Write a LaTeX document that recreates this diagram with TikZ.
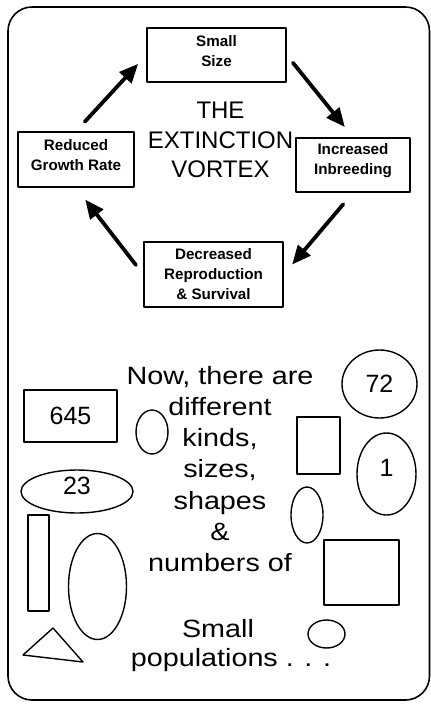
\documentclass[tikz,border=0pt]{standalone}
\usepackage{fontspec}
\setmainfont{Liberation Sans}
\newfontfamily\widesans[FakeStretch=1.15]{Liberation Sans}
\usetikzlibrary{arrows.meta,shapes.geometric}
\tikzset{
	stagebox/.style={draw, line width=1.4pt, inner sep=0pt, align=center,
			font=\bfseries\fontsize{15.2}{20}\selectfont},
	cyclearrow/.style={line width=3.8pt, -{Triangle[length=19pt,width=16pt]}},
	shapeline/.style={line width=1.4pt},
	popshape/.style={draw, shapeline, inner sep=0pt, font=\fontsize{25}{30}\selectfont},
	numtext/.style={inner sep=0pt, font=\fontsize{25}{30}\selectfont},
	bigtext/.style={align=center, inner sep=0pt, font=\widesans\fontsize{25}{31.2}\selectfont}
}
\begin{document}
\begin{tikzpicture}[x=1pt,y=-1pt,line cap=round,line join=round]
	\useasboundingbox (0,0) rectangle (431,705);
	% Frame
	\draw[line width=1.6pt, rounded corners=24pt] (8,7) rectangle (429.5,700);

	% The four stages of the vortex
	\node[stagebox, minimum width=139pt, minimum height=54pt, text depth=9pt] (small) at (216.5,55) {Small\\Size};
	\node[stagebox, minimum width=114pt, minimum height=54pt, text depth=12pt] (inbreed) at (353,165) {Increased\\Inbreeding};
	\node[stagebox, minimum width=139pt, minimum height=65pt] (reprod) at (213.5,274.5) {Decreased\\Reproduction\\\& Survival};
	\node[stagebox, minimum width=116pt, minimum height=55pt, text depth=9pt] (growth) at (76,159.5) {Reduced\\Growth Rate};

	% Title in the middle
	\node[align=center, inner sep=0pt, font=\fontsize{24}{29.5}\selectfont] (title) at (220.5,140) {THE\\EXTINCTION\\VORTEX};

	% Arrows round the cycle
	\draw[cyclearrow, shorten <=13pt, shorten >=12pt] (growth.north) -- (small.west);
	\draw[cyclearrow, shorten <=10pt, shorten >=13pt] (small.east) -- (inbreed.north);
	\draw[cyclearrow, shorten <=15pt, shorten >=13pt] (inbreed.south) -- (reprod.east);
	\draw[cyclearrow, shorten <=12pt, shorten >=15pt] (reprod.west) -- (growth.south);

	% Text about small populations
	\node[bigtext] (nowtext) at (220,469) {Now, there are\\different\\kinds,\\sizes,\\shapes\\\&\\numbers of};
	\node[bigtext, anchor=base] (smallword) at (218,637) {Small};
	\node[bigtext, anchor=base] (popword) at (231,666) {populations . . .};

	% Shapes on the left
	\node[popshape, minimum width=93pt, minimum height=52pt] (n645) at (70.5,416) {645};
	\draw[shapeline] (152,432) ellipse [x radius=16pt, y radius=22pt];
	\node[popshape, ellipse, minimum width=112pt, minimum height=43pt] (n23) at (77,491.5) {};
	\node[numtext] (lab23) at ([yshift=6pt]n23.center) {23};
	\draw[shapeline] (28,515) rectangle (49,611);
	\draw[shapeline] (97.5,586.5) ellipse [x radius=29pt, y radius=53pt];
	\draw[shapeline] (23,655) -- (53,628) -- (83,662) -- cycle;

	% Shapes on the right
	\node[popshape, ellipse, minimum width=75pt, minimum height=68pt] (n72) at (379.5,384) {72};
	\draw[shapeline] (297,417) rectangle (340,474);
	\node[popshape, ellipse, minimum width=59pt, minimum height=82pt] (n1) at (386.5,474) {};
	\node[numtext] (lab1) at ([yshift=6pt]n1.center) {1};
	\draw[shapeline] (307,515) ellipse [x radius=16pt, y radius=28pt];
	\draw[shapeline] (324,540) rectangle (399,605);
	\draw[shapeline] (326.5,634) ellipse [x radius=18.5pt, y radius=14pt];
\end{tikzpicture}
\end{document}
